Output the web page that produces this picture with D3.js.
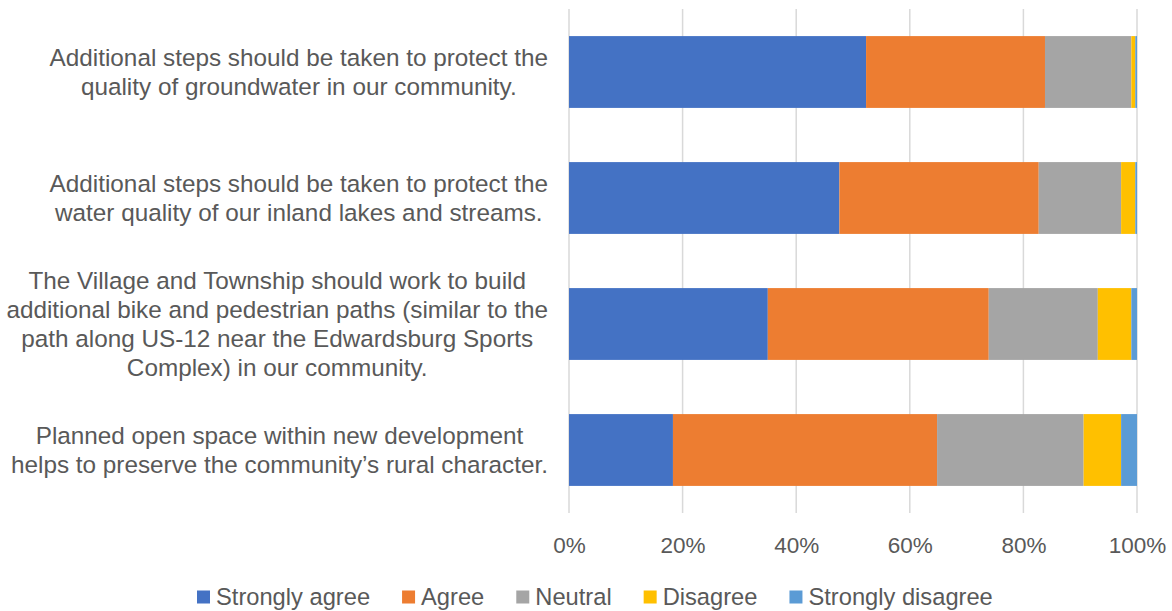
<!DOCTYPE html>
<html>
<head>
<meta charset="utf-8">
<script src="https://cdn.jsdelivr.net/npm/d3@7"></script>
<style>
  html, body { margin: 0; padding: 0; background: #fff; }
  svg { display: block; font-family: "Liberation Sans", Arial, Helvetica, sans-serif; }
</style>
</head>
<body>
<svg id="chart" width="1172" height="611"></svg>
<script>
// ---- data ----
const categories = [
  ["Additional steps should be taken to protect the", "quality of groundwater in our community."],
  ["Additional steps should be taken to protect the", "water quality of our inland lakes and streams."],
  ["The Village and Township should work to build", "additional bike and pedestrian paths (similar to the", "path along US-12 near the Edwardsburg Sports", "Complex) in our community."],
  ["Planned open space within new development", "helps to preserve the community\u2019s rural character."]
];
const seriesNames = ["Strongly agree", "Agree", "Neutral", "Disagree", "Strongly disagree"];
const stronglyAgree    = [52.3, 47.6, 35.0, 18.3];
const agree            = [31.5, 35.1, 38.9, 46.5];
const neutral          = [15.2, 14.5, 19.2, 25.8];
const disagree         = [0.7, 2.5, 5.9, 6.6];
const stronglyDisagree = [0.3, 0.3, 1.0, 2.8];
const tickValues = [0, 20, 40, 60, 80, 100];
const tickLabels = ["0%", "20%", "40%", "60%", "80%", "100%"];
const colors = ["#4472C4", "#ED7D31", "#A5A5A5", "#FFC000", "#5B9BD5"];

const seriesValues = [stronglyAgree, agree, neutral, disagree, stronglyDisagree];
const rows = categories.map((c, i) => {
  const o = { idx: i };
  seriesNames.forEach((s, j) => o[s] = seriesValues[j][i]);
  return o;
});

// ---- layout ----
const svg = d3.select("#chart");
const plotLeft = 569, plotRight = 1137, plotTop = 9, plotBottom = 513;
const textColor = "#595959";

const x = d3.scaleLinear().domain([0, 100]).range([plotLeft, plotRight]);
const y = d3.scaleBand().domain(d3.range(categories.length)).range([plotTop, plotBottom]).paddingInner(0.43).paddingOuter(0.215);

// gridlines
svg.append("g").selectAll("line").data(tickValues).join("line")
  .attr("x1", d => x(d)).attr("x2", d => x(d))
  .attr("y1", plotTop).attr("y2", plotBottom)
  .attr("stroke", "#D9D9D9").attr("stroke-width", 1.5);

// stacked bars
const stack = d3.stack().keys(seriesNames);
const stacked = stack(rows);
svg.append("g").selectAll("g").data(stacked).join("g")
  .attr("fill", (d, i) => colors[i])
  .selectAll("rect").data(d => d).join("rect")
  .attr("x", d => x(d[0]))
  .attr("width", d => x(d[1]) - x(d[0]))
  .attr("y", d => y(d.data.idx))
  .attr("height", y.bandwidth());

// x axis tick labels
const xAxis = d3.axisBottom(x).tickValues(tickValues).tickFormat((d, i) => tickLabels[i]).tickSize(0).tickPadding(0);
const ax = svg.append("g").attr("transform", `translate(0, 553)`).call(xAxis);
ax.select(".domain").remove();
ax.selectAll("text").attr("dy", 0).attr("fill", textColor)
  .style("font-size", "22.5px").style("font-family", '"Liberation Sans", Arial, sans-serif');

// category labels (centered block, right edge at 548)
const labelRight = 548, lineH = 29, labelSize = 24.3;
categories.forEach((lines, i) => {
  const g = svg.append("g");
  const t = g.append("text").attr("fill", textColor).style("font-size", labelSize + "px").attr("text-anchor", "middle");
  const cy = y(i) + y.bandwidth() / 2;
  const n = lines.length;
  lines.forEach((ln, k) => {
    t.append("tspan").attr("x", 0).attr("y", cy + (k - (n - 1) / 2) * lineH + 8.5).text(ln);
  });
  let maxW = 0;
  t.selectAll("tspan").each(function() { maxW = Math.max(maxW, this.getComputedTextLength()); });
  t.selectAll("tspan").attr("x", labelRight - maxW / 2);
});

// legend
const legend = svg.append("g");
let lx = 197;
const ly = 597;
seriesNames.forEach((s, i) => {
  legend.append("rect").attr("x", lx).attr("y", ly - 6.5).attr("width", 13).attr("height", 13).attr("fill", colors[i]);
  const t = legend.append("text").attr("x", lx + 19).attr("y", ly + 8).attr("fill", textColor)
    .style("font-size", "23.7px").text(s);
  lx += 19 + t.node().getComputedTextLength() + 32;
});
</script>
</body>
</html>
